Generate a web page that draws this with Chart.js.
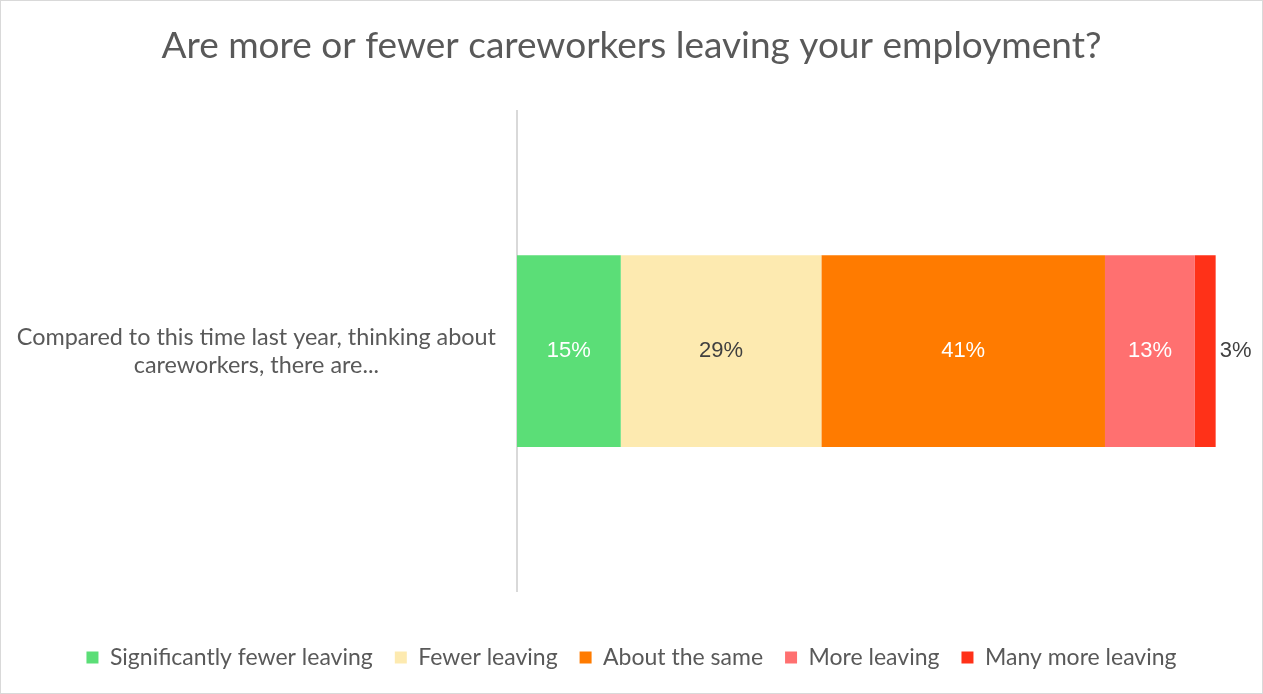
<!DOCTYPE html>
<html>
<head>
<meta charset="utf-8">
<script src="https://cdn.jsdelivr.net/npm/chart.js@4.4.0/dist/chart.umd.min.js"></script>
<style>
  html, body { margin: 0; padding: 0; background: #fff; }
  #wrap { width: 1263px; height: 694px; box-sizing: border-box; border: 1px solid #d9d9d9; }
</style>
</head>
<body>
<div id="wrap"><canvas id="leaving"></canvas></div>
<script>
var questionLabel = ['Compared to this time last year, thinking about', 'careworkers, there are...'];
var answers = ['Significantly fewer leaving', 'Fewer leaving', 'About the same', 'More leaving', 'Many more leaving'];
var shares = [15, 29, 41, 13, 3];
var answerColors = ['#5bde77', '#fdeab0', '#ff7b00', '#ff7070', '#ff3118'];
var labelColors = ['#ffffff', '#404040', '#ffffff', '#ffffff', '#404040'];

// writes the percentage on each segment, the last one sits just past the bar end
var segmentLabels = {
	id: 'segmentLabels',
	afterDatasetsDraw: function(chart) {
		var ctx = chart.ctx;
		ctx.save();
		ctx.font = '22px "Liberation Sans", Arial, sans-serif';
		ctx.textBaseline = 'middle';
		chart.data.datasets.forEach(function(ds, i) {
			var bar = chart.getDatasetMeta(i).data[0];
			var text = ds.data[0] + '%';
			ctx.fillStyle = labelColors[i];
			if (i === chart.data.datasets.length - 1) {
				ctx.textAlign = 'left';
				ctx.fillText(text, bar.x + 4, bar.y);
			} else {
				ctx.textAlign = 'center';
				ctx.fillText(text, (bar.x + bar.base) / 2, bar.y);
			}
		});
		ctx.restore();
	}
};

var datasets = answers.map(function(name, i) {
	return {
		label: name,
		data: [shares[i]],
		backgroundColor: answerColors[i],
		borderWidth: 0,
		categoryPercentage: 0.4,
		barPercentage: 1
	};
});

new Chart(document.getElementById('leaving'), {
	type: 'bar',
	data: {
		labels: [questionLabel],
		datasets: datasets
	},
	options: {
		indexAxis: 'y',
		responsive: true,
		maintainAspectRatio: false,
		animation: false,
		layout: { padding: { left: 0, right: 0, top: 0, bottom: 14 } },
		scales: {
			x: {
				stacked: true,
				min: 0,
				max: 107.7,
				grid: { display: false },
				border: { display: false },
				ticks: { display: false },
				// keeps a gap between the plot and the legend
				afterFit: function(scale) { scale.height = 33; }
			},
			y: {
				stacked: true,
				grid: { display: false },
				border: { display: true, color: '#d9d9d9', width: 2 },
				ticks: {
					crossAlign: 'center',
					padding: 13,
					color: '#595959',
					font: { family: 'Lato, "Open Sans", sans-serif', size: 23.4 }
				},
				afterFit: function(scale) { scale.width = 516; }
			}
		},
		plugins: {
			title: {
				display: true,
				text: 'Are more or fewer careworkers leaving your employment?',
				color: '#595959',
				font: { family: 'Lato, "Open Sans", sans-serif', size: 37, weight: 'normal' },
				padding: { top: 23, bottom: 43 }
			},
			legend: {
				display: true,
				position: 'bottom',
				labels: {
					boxWidth: 12,
					boxHeight: 12,
					padding: 22,
					color: '#595959',
					font: { family: 'Lato, "Open Sans", sans-serif', size: 23 }
				}
			},
			tooltip: { enabled: false }
		}
	},
	plugins: [segmentLabels]
});
</script>
</body>
</html>
